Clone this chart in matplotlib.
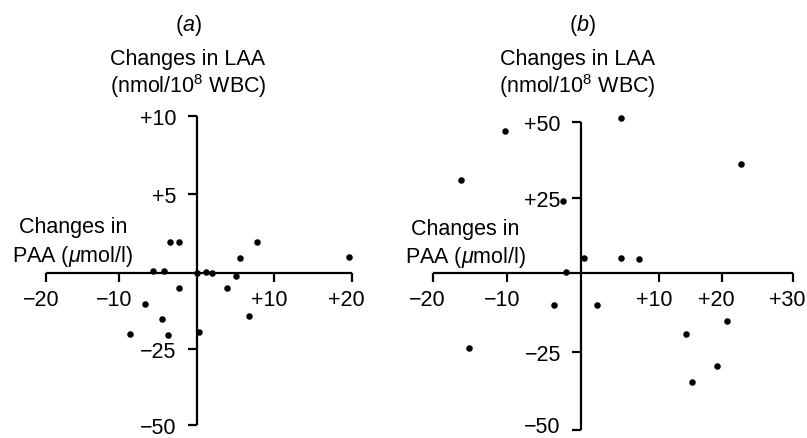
import numpy as np
import matplotlib
matplotlib.use("Agg")
import matplotlib.pyplot as plt
import matplotlib.transforms as mtransforms

plt.rcParams['font.family'] = ['Liberation Sans', 'DejaVu Sans']
plt.rcParams['mathtext.fontset'] = 'custom'
plt.rcParams['mathtext.rm'] = 'Liberation Sans'
plt.rcParams['mathtext.it'] = 'Liberation Sans:italic'
plt.rcParams['mathtext.bf'] = 'Liberation Sans:bold'

# ---------------- data ----------------
# panel (a): changes in PAA (x) vs changes in LAA (y)
a_x = [-3.45, -2.29, -5.59, -4.22, 0.0, 1.16, 2.0, 5.58, 7.81, 19.65,
       5.08, -2.29, 3.94, -6.72, -4.52, -8.62, -3.70, 0.3, 6.74]
a_y = [1.94, 1.94, 0.15, 0.15, 0.0, 0.04, 0.0, 0.93, 1.98, 0.99,
       -0.9, -5.0, -5.0, -10.2, -15.1, -20.1, -20.4, -19.3, -14.2]
# panel (b)
b_x = [-10.31, 5.11, -16.2, 22.68, -2.48, -2.1, 0.32, 5.11, 7.47,
       -3.62, 2.0, -15.13, 14.23, 20.7, 19.2, 15.24]
b_y = [46.9, 51.2, 30.8, 36.3, 23.9, 0.4, 4.9, 4.9, 4.7,
       -10.1, -10.1, -23.6, -19.3, -15.1, -29.4, -34.5]

a_xticks = [-20, -10, 10, 20]
a_xticklabels = ['\u221220', '\u221210', '+10', '+20']
a_yticks = [10, 5, -25, -50]
a_yticklabels = ['+10', '+5', '\u221225', '\u221250']
b_xticks = [-20, -10, 10, 20, 30]
b_xticklabels = ['\u221220', '\u221210', '+10', '+20', '+30']
b_yticks = [50, 25, -25, -50]
b_yticklabels = ['+50', '+25', '\u221225', '\u221250']

panel_labels = ['($a$)', '($b$)']
y_title = ['Changes in LAA', '(nmol/10$^{8}$ WBC)']
x_title = ['Changes in', 'PAA ($\\mu$mol/l)']

# ---------------- layout / style ----------------
W, H = 807, 439
FS = 15.5
LW = 1.6

# the printed axes are not uniformly divided; knots give the drawn
# position (pixels) of each labelled value
A_XK = ([-20, -10, 0, 10, 20], [46, 119.3, 196.7, 274.3, 351.7])
A_YK = ([-50, -25, 0, 5, 10], [H - 426, H - 350, H - 274, H - 195, H - 117])
B_XK = ([-20, -10, 0, 10, 20, 30], [432.7, 507.3, 581, 659.3, 721.7, 792.7])
B_YK = ([-50, -25, 0, 25, 50], [H - 431, H - 353, H - 274, H - 199, H - 123])


def piecewise(kd, kp):
    kd = np.asarray(kd, float)
    kp = np.asarray(kp, float)

    def _map(v, a, b):
        v = np.asarray(v, float)
        out = np.interp(v, a, b)
        sl0 = (b[1] - b[0]) / (a[1] - a[0])
        sl1 = (b[-1] - b[-2]) / (a[-1] - a[-2])
        out = np.where(v < a[0], b[0] + (v - a[0]) * sl0, out)
        out = np.where(v > a[-1], b[-1] + (v - a[-1]) * sl1, out)
        return out

    return (lambda v: _map(v, kd, kp)), (lambda v: _map(v, kp, kd))


def setup(ax, xk, yk, xlim, ylim, xticks, xtl, yticks, ytl, xb, yb):
    fx, ix = piecewise(*xk)
    fy, iy = piecewise(*yk)
    ax.set_xscale('function', functions=(fx, ix))
    ax.set_yscale('function', functions=(fy, iy))
    ax.set_xlim(xlim)
    ax.set_ylim(ylim)
    x0, x1 = float(fx(xlim[0])), float(fx(xlim[1]))
    y0, y1 = float(fy(ylim[0])), float(fy(ylim[1]))
    ax.set_position([x0 / W, y0 / H, (x1 - x0) / W, (y1 - y0) / H])
    ax.patch.set_visible(False)
    for s in ['top', 'right']:
        ax.spines[s].set_visible(False)
    ax.spines['left'].set_position(('data', 0))
    ax.spines['bottom'].set_position(('data', 0))
    ax.spines['left'].set_bounds(*yb)
    ax.spines['bottom'].set_bounds(*xb)
    for s in ['left', 'bottom']:
        ax.spines[s].set_linewidth(LW)
        ax.spines[s].set_capstyle('butt')
    ax.set_xticks(xticks)
    ax.set_xticklabels(xtl)
    ax.set_yticks(yticks)
    ax.set_yticklabels(ytl)
    ax.minorticks_off()
    ax.tick_params(axis='x', direction='out', length=6.5, width=LW, pad=5,
                   labelsize=FS)
    ax.tick_params(axis='y', direction='out', length=6.5, width=LW, pad=8,
                   labelsize=FS)
    # printed x labels sit slightly left of their ticks
    off = mtransforms.ScaledTranslation(-5 / 100, 0, fig.dpi_scale_trans)
    for lab in ax.xaxis.get_majorticklabels():
        lab.set_transform(lab.get_transform() + off)


fig = plt.figure(figsize=(W / 100, H / 100), dpi=100)
fig.patch.set_facecolor('white')

ax_a = fig.add_axes([0, 0, 1, 1])
setup(ax_a, A_XK, A_YK, (-21, 21), (-52, 11),
      a_xticks, a_xticklabels, a_yticks, a_yticklabels, (-20, 20), (-50, 10))
ax_a.scatter(a_x, a_y, s=22, color='black', linewidths=0, clip_on=False,
             zorder=3)

ax_b = fig.add_axes([0, 0, 1, 1])
setup(ax_b, B_XK, B_YK, (-21, 31), (-52, 53),
      b_xticks, b_xticklabels, b_yticks, b_yticklabels, (-20, 30), (-50, 50))
ax_b.scatter(b_x, b_y, s=22, color='black', linewidths=0, clip_on=False,
             zorder=3)
# keep the bottom label of panel (b) inside the picture
up = mtransforms.ScaledTranslation(0, 6 / 100, fig.dpi_scale_trans)
lowest = ax_b.yaxis.get_majorticklabels()[-1]
lowest.set_transform(lowest.get_transform() + up)


def ftext(px, py, s, **kw):
    fig.text(px / W, 1 - py / H, s, ha='center', va='baseline',
             fontsize=FS, **kw)


# panel (a) texts
ftext(188.5, 30.5, panel_labels[0])
ftext(187.5, 65, y_title[0])
ftext(188, 93, y_title[1])
ftext(73, 233, x_title[0])
ftext(73, 262, x_title[1])
# panel (b) texts
ftext(582.7, 30.5, panel_labels[1])
ftext(578, 65, y_title[0])
ftext(577, 93, y_title[1])
ftext(465, 235, x_title[0])
ftext(466, 263, x_title[1])

fig.savefig('out.png', dpi=100, facecolor='white')
